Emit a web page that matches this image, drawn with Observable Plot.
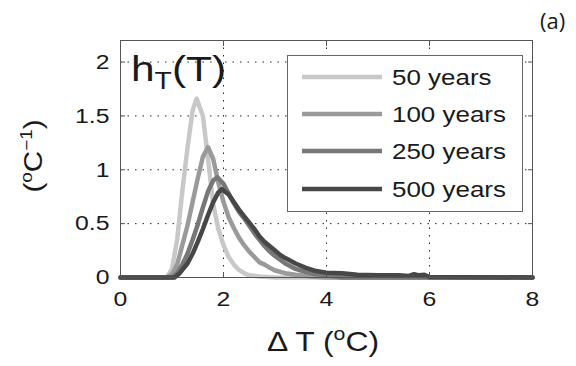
<!DOCTYPE html>
<html>
<head>
<meta charset="utf-8">
<script src="https://cdn.jsdelivr.net/npm/d3@7"></script>
<script src="https://cdn.jsdelivr.net/npm/@observablehq/plot@0.6"></script>
<style>
  html, body { margin: 0; padding: 0; background: #fff; }
  #chart svg { display: block; }
</style>
</head>
<body>
<div id="chart"></div>
<script>
// ---- data ----
const seriesNames = ["50 years", "100 years", "250 years", "500 years"];
const seriesColors = ["#c8c8c8", "#9a9a9a", "#777777", "#474747"];

const T50 = [0, 0.9, 1.0, 1.1, 1.2, 1.3, 1.4, 1.48, 1.6, 1.7, 1.8, 1.9, 2.0, 2.1, 2.2, 2.3, 2.4, 2.5, 2.7, 3.0, 8];
const H50 = [0, 0, 0.08, 0.35, 0.8, 1.2, 1.55, 1.66, 1.5, 1.1, 0.68, 0.45, 0.3, 0.19, 0.12, 0.07, 0.04, 0.02, 0.01, 0, 0];

const T100 = [0, 0.9, 1.0, 1.1, 1.2, 1.3, 1.4, 1.5, 1.6, 1.7, 1.8, 1.9, 2.0, 2.1, 2.2, 2.3, 2.4, 2.5, 2.6, 2.7, 2.8, 2.9, 3.0, 3.2, 3.4, 3.7, 4.0, 8];
const H100 = [0, 0, 0.03, 0.12, 0.3, 0.48, 0.7, 0.92, 1.12, 1.21, 1.1, 0.88, 0.7, 0.56, 0.46, 0.37, 0.3, 0.24, 0.19, 0.14, 0.12, 0.09, 0.065, 0.04, 0.025, 0.01, 0, 0];

const T250 = [0, 1.0, 1.1, 1.2, 1.3, 1.4, 1.5, 1.6, 1.7, 1.8, 1.88, 2.0, 2.1, 2.2, 2.3, 2.4, 2.5, 2.6, 2.7, 2.8, 2.9, 3.0, 3.2, 3.4, 3.6, 3.8, 4.0, 4.3, 8];
const H250 = [0, 0, 0.04, 0.12, 0.22, 0.35, 0.49, 0.65, 0.8, 0.9, 0.93, 0.87, 0.78, 0.69, 0.61, 0.55, 0.48, 0.41, 0.35, 0.29, 0.24, 0.2, 0.13, 0.08, 0.05, 0.03, 0.02, 0, 0];

const T500 = [0, 1.05, 1.15, 1.2, 1.3, 1.4, 1.5, 1.6, 1.7, 1.8, 1.9, 1.97, 2.1, 2.2, 2.3, 2.4, 2.5, 2.6, 2.7, 2.8, 2.9, 3.0, 3.1, 3.2, 3.4, 3.6, 3.8, 4.0, 4.3, 4.6, 5.0, 5.4, 5.6, 5.7, 5.8, 5.9, 6.0, 8];
const H500 = [0, 0, 0.04, 0.07, 0.13, 0.22, 0.33, 0.45, 0.58, 0.7, 0.79, 0.82, 0.77, 0.7, 0.63, 0.57, 0.51, 0.45, 0.38, 0.33, 0.29, 0.25, 0.21, 0.18, 0.13, 0.09, 0.06, 0.045, 0.04, 0.025, 0.02, 0.02, 0.015, 0.03, 0.02, 0.025, 0.005, 0];

const xTicks = [0, 2, 4, 6, 8];
const yTicks = [0, 0.5, 1, 1.5, 2];

// ---- build table ----
const seriesT = [T50, T100, T250, T500];
const seriesH = [H50, H100, H250, H500];
const data = [];
seriesNames.forEach((name, i) => {
  seriesT[i].forEach((t, j) => data.push({series: name, T: t, h: seriesH[i][j]}));
});

const font = "'Liberation Sans', Arial, Helvetica, sans-serif";
const fmt = d => String(d);
const SX = 1.18; // horizontal stretch of the reference's lettering

const chart = Plot.plot({
  width: 576,
  height: 366,
  marginLeft: 120,
  marginRight: 44,
  marginTop: 40,
  marginBottom: 89,
  style: {fontFamily: font, fontSize: "21px", color: "#1a1a1a", background: "#fff"},
  x: {domain: [0, 8], ticks: xTicks},
  y: {domain: [0, 2.2], ticks: yTicks},
  color: {domain: seriesNames, range: seriesColors},
  marks: [
    Plot.gridX(xTicks.slice(1, -1), {stroke: "#111", strokeOpacity: 0.9, strokeDasharray: "1.5,6"}),
    Plot.gridY(yTicks.slice(1), {stroke: "#111", strokeOpacity: 0.9, strokeDasharray: "1.5,6"}),
    Plot.line(data, {x: "T", y: "h", z: "series", stroke: "series", strokeWidth: 4.5, curve: "linear"}),
    Plot.frame({stroke: "#555", strokeWidth: 1}),
    Plot.axisX(xTicks, {anchor: "bottom", tickSize: 0, tickPadding: 14, label: null, tickFormat: fmt, fontSize: 21}),
    Plot.axisY(yTicks, {anchor: "left", tickSize: 0, tickPadding: 11, label: null, tickFormat: fmt, fontSize: 21}),
    Plot.axisX(xTicks, {anchor: "bottom", tickSize: -5, tickFormat: () => "", label: null, stroke: "#555"}),
    Plot.axisX(xTicks, {anchor: "top", tickSize: -5, tickFormat: () => "", label: null, stroke: "#555"}),
    Plot.axisY(yTicks, {anchor: "left", tickSize: -5, tickFormat: () => "", label: null, stroke: "#555"}),
    Plot.axisY(yTicks, {anchor: "right", tickSize: -5, tickFormat: () => "", label: null, stroke: "#555"})
  ]
});

document.getElementById("chart").appendChild(chart);

const svg = d3.select(chart);

// widen tick labels like the reference lettering
svg.selectAll('g[aria-label="x-axis tick label"] text, g[aria-label="y-axis tick label"] text')
  .attr("transform", function () { return (this.getAttribute("transform") || "") + ` scale(${SX},1)`; });

// ---- annotations: legend, labels ----
const g = svg.append("g").attr("font-family", font).attr("fill", "#1a1a1a").attr("text-anchor", "start");

// legend box
const lg = g.append("g");
lg.append("rect").attr("x", 287.5).attr("y", 55.5).attr("width", 235).attr("height", 156)
  .attr("fill", "#fff").attr("stroke", "#666").attr("stroke-width", 1);
const legendY = [77, 114, 151, 189];
seriesNames.forEach((name, i) => {
  lg.append("line").attr("x1", 302).attr("x2", 382).attr("y1", legendY[i]).attr("y2", legendY[i])
    .attr("stroke", seriesColors[i]).attr("stroke-width", 4.5);
  lg.append("text").attr("transform", `translate(392,${legendY[i]}) scale(${SX},1)`).attr("dy", "0.36em")
    .attr("font-size", 22).text(name);
});

// h_T(T) label
const ht = g.append("text").attr("transform", `translate(131,81) scale(${SX},1)`).attr("font-size", 36);
ht.append("tspan").text("h");
ht.append("tspan").attr("font-size", 24).attr("dy", 8).text("T");
ht.append("tspan").attr("dy", -8).text("(T)");

// y label
const yl = g.append("text").attr("transform", `translate(42,156) rotate(-90) scale(${SX},1)`)
  .attr("text-anchor", "middle").attr("font-size", 25);
yl.append("tspan").text("(");
yl.append("tspan").attr("font-size", 16).attr("dy", -10).text("o");
yl.append("tspan").attr("dy", 10).text("C");
yl.append("tspan").attr("font-size", 16).attr("dy", -10).text("\u22121");
yl.append("tspan").attr("dy", 10).text(")");

// x label
const xl = g.append("text").attr("transform", `translate(323,351) scale(${SX},1)`)
  .attr("text-anchor", "middle").attr("font-size", 27);
xl.append("tspan").text("\u0394 T (");
xl.append("tspan").attr("font-size", 18).attr("dy", -11).text("o");
xl.append("tspan").attr("dy", 11).text("C)");

// panel tag
g.append("text").attr("x", 540).attr("y", 29).attr("font-size", 22)
  .attr("font-family", "'Open Sans', sans-serif").text("(a)");
</script>
</body>
</html>
